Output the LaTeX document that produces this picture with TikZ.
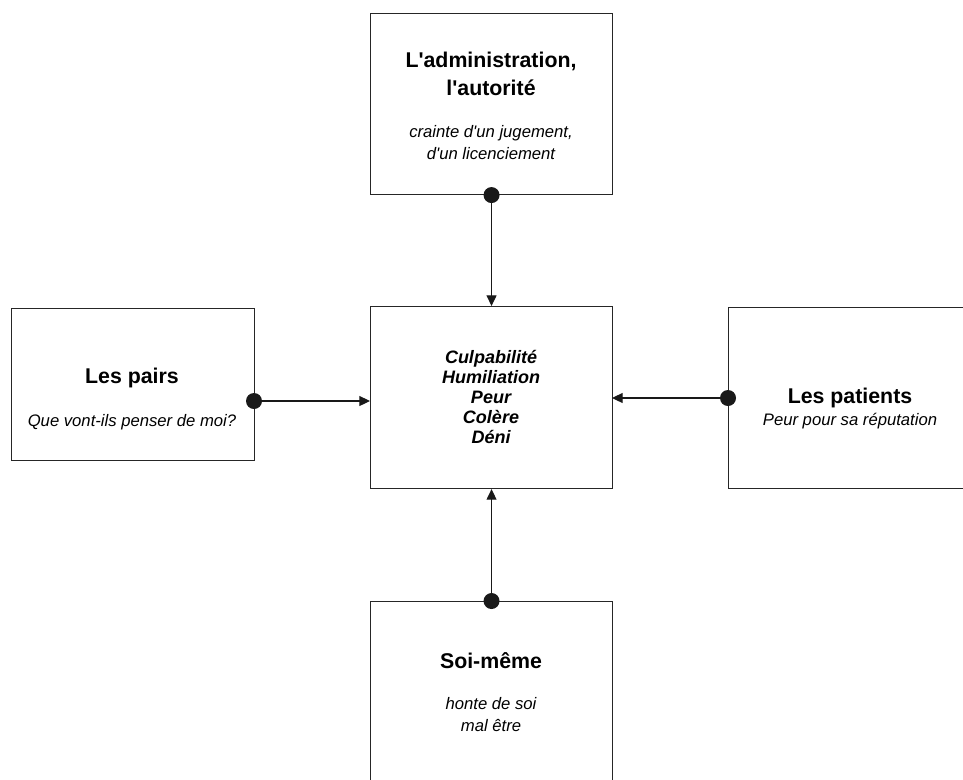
\documentclass[tikz,border=0pt]{standalone}
\usepackage{fontspec}
\setmainfont{Liberation Sans}
\usetikzlibrary{arrows.meta}
\begin{document}
\begin{tikzpicture}[x=0.75pt,y=-0.75pt,
  boxst/.style={draw=black!85, line width=0.8pt, rectangle, inner sep=0pt, anchor=north west},
  titlest/.style={font=\fontsize{16pt}{21pt}\selectfont\bfseries, align=center, inner sep=0pt},
  subst/.style={font=\fontsize{12.5pt}{16.5pt}\selectfont\itshape, align=center, inner sep=0pt},
  centst/.style={font=\fontsize{13.5pt}{15pt}\selectfont\bfseries\itshape, align=center, inner sep=0pt},
  conn/.style={draw=black!90, line width=0.8pt, -{Triangle[length=8pt,width=7.5pt]}},
  dotst/.style={fill=black!90}]
\clip (0,0) rectangle (963,779);
\fill[white] (0,0) rectangle (963,779);
% boxes
\node[boxst, minimum width=242*0.75pt, minimum height=181*0.75pt] (top) at (370,13) {};
\node[boxst, minimum width=242*0.75pt, minimum height=182*0.75pt] (mid) at (370,306) {};
\node[boxst, minimum width=243*0.75pt, minimum height=152*0.75pt] (left) at (11,308) {};
\node[boxst, minimum width=245*0.75pt, minimum height=181*0.75pt] (right) at (728,307) {};
\node[boxst, minimum width=242*0.75pt, minimum height=200*0.75pt] (bot) at (370,601) {};
% texts
\node[titlest] (toptitle) at (491,74) {L\textquotesingle administration,\\l\textquotesingle autorité};
\node[subst] (topsub) at (491,143) {crainte d\textquotesingle un jugement,\\d\textquotesingle un licenciement};
\node[centst] (midtext) at (491,397) {Culpabilité\\Humiliation\\Peur\\Colère\\Déni};
\node[titlest] (lefttitle) at (132,378) {Les pairs};
\node[subst] (leftsub) at (132,422) {Que vont-ils penser de moi?};
\node[titlest] (righttitle) at (850,398) {Les patients};
\node[subst] (rightsub) at (850,421) {Peur pour sa réputation};
\node[titlest] (bottitle) at (491,661) {Soi-même};
\node[subst] (botsub) at (491,715) {honte de soi\\mal être};
% connector points
\coordinate (ls) at (254,401);
\coordinate (le) at (370,401);
\coordinate (rs) at (728,398);
\coordinate (re) at (612,398);
% connectors
\draw[conn] (top.south) -- (mid.north);
\draw[conn] (ls) -- (le);
\draw[conn] (rs) -- (re);
\draw[conn] (bot.north) -- (mid.south);
% dots
\fill[dotst] (top.south) circle (8);
\fill[dotst] (ls) circle (8);
\fill[dotst] (rs) circle (8);
\fill[dotst] (bot.north) circle (8);
\end{tikzpicture}
\end{document}
